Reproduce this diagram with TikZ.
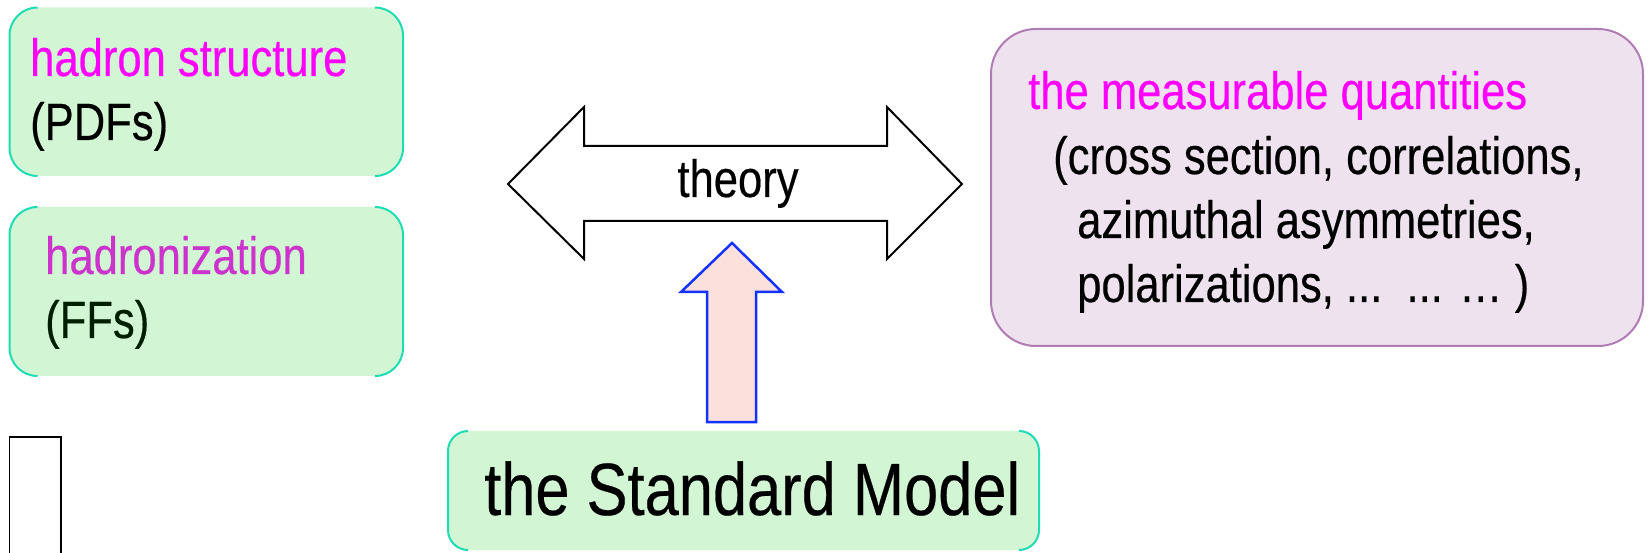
\documentclass[tikz,border=0pt]{standalone}
\usepackage{fontspec}
\setmainfont[FakeStretch=0.83,FakeBold=0.35]{Liberation Sans}
\definecolor{gfillc}{RGB}{210,245,212}
\definecolor{glinec}{RGB}{30,220,180}
\definecolor{pfillc}{RGB}{239,226,239}
\definecolor{plinec}{RGB}{176,124,180}
\definecolor{magc}{RGB}{255,0,255}
\definecolor{hadc}{RGB}{204,51,204}
\definecolor{ffc}{RGB}{0,30,0}
\definecolor{bluec}{RGB}{20,50,255}
\definecolor{pinkc}{RGB}{252,224,220}
\newcommand\greenbox[5]{%
  \fill[gfillc, rounded corners=#5pt] (#1,#2) rectangle (#3,#4);
  \draw[gline] (#1+#5,#2) arc[start angle=270,end angle=180,radius=#5] -- (#1,#4-#5) arc[start angle=180,end angle=90,radius=#5];
  \draw[gline] (#3-#5,#2) arc[start angle=270,end angle=360,radius=#5] -- (#3,#4-#5) arc[start angle=0,end angle=90,radius=#5];
}
\begin{document}
\begin{tikzpicture}[x=1pt,y=-1pt,
  txt/.style={inner sep=0pt, anchor=base west, font=\fontsize{52.5}{60}\selectfont},
  bigtxt/.style={inner sep=0pt, anchor=base west, font=\fontsize{74}{84}\selectfont},
  gline/.style={draw=glinec, line width=2pt},
  dblarrow/.style={draw=black, line width=2pt, fill=white, line join=miter},
  uparrow/.style={draw=bluec, line width=2.5pt, fill=pinkc, line join=miter},
  pbox/.style={draw=plinec, line width=2pt, fill=pfillc, rounded corners=45pt}]
\useasboundingbox (0,0) rectangle (1650,553);
\fill[white] (0,0) rectangle (1650,553);

% left green boxes
\greenbox{9.5}{7.5}{403}{176}{28}
\node[txt, text=magc] (hs) at (30,76) {hadron structure};
\node[txt, text=black] (pdf) at (30,140) {(PDFs)};

\greenbox{9.5}{207}{403}{376}{28}
\node[txt, text=hadc] (hz) at (45,274) {hadronization};
\node[txt, text=ffc] (ff) at (45,338) {(FFs)};

% small rectangle at bottom left
\draw[black, line width=1.5pt] (9.5,570) -- (9.5,437) -- (61,437) -- (61,570);

% standard model box
\greenbox{448}{431}{1039}{550}{20}
\node[bigtxt] (sm) at (484,515) {the Standard Model};

% double arrow
\draw[dblarrow] (508,184) -- (584,107) -- (584,146) -- (887,146) -- (887,107) -- (962,184)
  -- (887,259) -- (887,221) -- (584,221) -- (584,259) -- cycle;
\node[txt, anchor=base] (th) at (738,197) {theory};

% up arrow
\draw[uparrow] (732,243) -- (782,292) -- (756,292) -- (756,422) -- (707,422) -- (707,292) -- (681,292) -- cycle;

% measurable box
\draw[pbox] (991,29) rectangle (1643,346);
\node[txt, text=magc] (mq) at (1028,109) {the measurable quantities};
\node[txt] (l1) at (1053,174) {(cross section, correlations,};
\node[txt] (l2) at (1077,238) {azimuthal asymmetries,};
\node[txt] (l3) at (1077,302) {polarizations, ...\ \ ... … )};
\end{tikzpicture}
\end{document}
